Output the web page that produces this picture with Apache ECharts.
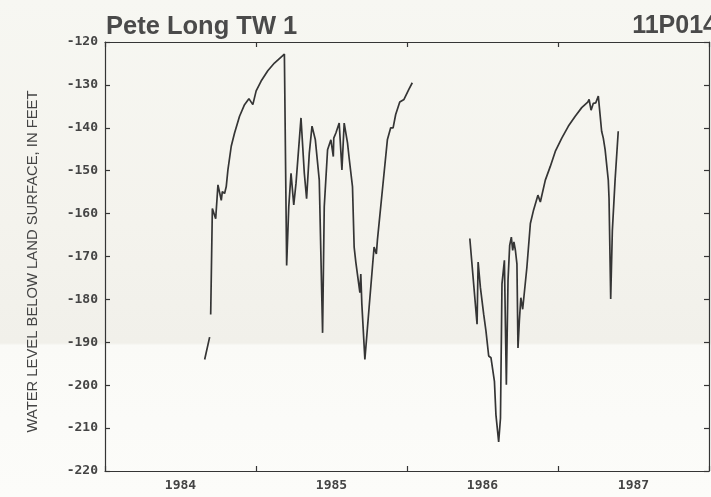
<!DOCTYPE html>
<html>
<head>
<meta charset="utf-8">
<script src="https://cdn.jsdelivr.net/npm/echarts@6/dist/echarts.min.js"></script>
<style>
  html, body { margin: 0; padding: 0; }
  #chart { width: 711px; height: 497px; }
</style>
</head>
<body>
<div id="chart"></div>
<script>
// decimal years, null level = break in the record
var years = [
  1984.660, 1984.693, 1984.696,
  1984.700, 1984.711, 1984.719, 1984.733, 1984.748, 1984.759, 1984.770, 1984.777, 1984.792, 1984.803,
  1984.814, 1984.836, 1984.858, 1984.891, 1984.924, 1984.953, 1984.979, 1985.001, 1985.034, 1985.078,
  1985.122, 1985.188, 1985.203, 1985.217, 1985.232, 1985.250, 1985.265, 1985.298, 1985.320, 1985.335,
  1985.353, 1985.371, 1985.393, 1985.419, 1985.441, 1985.452, 1985.474, 1985.496, 1985.512, 1985.515,
  1985.529, 1985.551, 1985.569, 1985.584, 1985.606, 1985.617, 1985.639, 1985.650, 1985.661, 1985.672,
  1985.688, 1985.694, 1985.701, 1985.721, 1985.749, 1985.771, 1985.782, 1985.797, 1985.804, 1985.837,
  1985.870, 1985.892, 1985.908, 1985.925, 1985.952, 1985.980, 1986.013, 1986.035, 1986.200,
  1986.416, 1986.464, 1986.471, 1986.486, 1986.508, 1986.523, 1986.541, 1986.556, 1986.579, 1986.589,
  1986.607, 1986.619, 1986.629, 1986.645, 1986.658, 1986.669, 1986.680, 1986.691, 1986.700, 1986.708,
  1986.718, 1986.728, 1986.735, 1986.744, 1986.754, 1986.766, 1986.779, 1986.794, 1986.817, 1986.838,
  1986.867, 1986.883, 1986.916, 1986.949, 1986.982, 1987.025, 1987.069, 1987.114, 1987.157, 1987.197,
  1987.206, 1987.219, 1987.234, 1987.250, 1987.267, 1987.279, 1987.289, 1987.300, 1987.312, 1987.322,
  1987.333, 1987.338, 1987.349, 1987.360, 1987.378, 1987.399
];
var levels = [
  -194.0, -188.8, null,
  -183.5, -158.8, -159.2, -161.2, -153.3, -153.7, -156.9, -154.9, -155.3, -153.7,
  -149.8, -144.3, -141.2, -137.3, -134.6, -133.2, -134.6, -131.4, -129.1, -126.7,
  -124.9, -122.8, -172.1, -158.4, -150.6, -158.0, -152.9, -137.7, -150.6, -156.5,
  -145.9, -139.6, -142.8, -152.2, -187.8, -158.4, -145.1, -142.8, -146.7, -142.4,
  -141.2, -138.9, -149.8, -138.9, -143.5, -147.1, -153.7, -167.8, -171.3, -171.7,
  -178.4, -174.1, -181.1, -194.0, -181.9, -172.5, -167.8, -169.4, -166.2, -154.5,
  -142.8, -140.0, -140.0, -136.9, -134.0, -133.4, -131.0, -129.5, null,
  -165.8, -185.8, -171.3, -177.2, -183.5, -187.4, -193.2, -193.6, -199.1, -206.9,
  -213.2, -207.7, -176.4, -170.9, -199.9, -175.6, -167.4, -165.5, -168.6, -166.6,
  -168.6, -171.7, -191.3, -185.0, -179.6, -182.3, -181.9, -172.5, -162.3, -159.2,
  -155.7, -157.3, -152.2, -149.0, -145.5, -142.4, -139.6, -137.3, -135.3, -134.0,
  -133.4, -135.9, -134.3, -134.2, -132.6, -133.0, -140.8, -142.4, -145.1, -145.1,
  -152.2, -156.5, -179.9, -163.9, -152.2, -140.8
];
var yearLabels = ['1984', '1985', '1986', '1987'];
var yearTicks = [1984, 1985, 1986, 1987, 1988];

var chart = echarts.init(document.getElementById('chart'));

var ink = '#353535';
var labelFont = { color: '#444', fontFamily: 'DejaVu Sans Mono', fontWeight: 'bold', fontSize: 13 };

var seriesData = [];
for (var i = 0; i < years.length; i++) {
  seriesData.push([years[i], levels[i] === null ? '-' : levels[i]]);
}
var labelValues = yearLabels.map(function (s, i) { return yearTicks[i] + 0.5; });

var xBase = {
  type: 'value',
  min: yearTicks[0],
  max: yearTicks[yearTicks.length - 1],
  interval: 1,
  splitLine: { show: false },
  axisLine: { lineStyle: { color: ink, width: 1.2 } },
  axisTick: { inside: true, length: 5, lineStyle: { color: ink, width: 1.2 } }
};
var yBase = {
  type: 'value',
  min: -220,
  max: -120,
  interval: 10,
  splitLine: { show: false },
  axisLine: { show: true, lineStyle: { color: ink, width: 1.2 } },
  axisTick: { show: true, inside: true, length: 5, lineStyle: { color: ink, width: 1.2 } }
};

var option = {
  animation: false,
  backgroundColor: new echarts.graphic.LinearGradient(0, 0, 0, 1, [
    { offset: 0, color: '#f7f7f2' },
    { offset: 0.45, color: '#f4f3ed' },
    { offset: 0.69, color: '#f1f0ea' },
    { offset: 0.695, color: '#fafaf7' },
    { offset: 1, color: '#fcfcf9' }
  ]),
  title: [
    {
      text: 'Pete Long TW 1',
      left: 106,
      top: 14,
      padding: 0,
      textStyle: { color: '#4a4a4a', fontFamily: 'Liberation Sans', fontWeight: 'bold', fontSize: 25.5 }
    },
    {
      text: '11P014',
      right: -6,
      top: 14,
      padding: 0,
      textStyle: { color: '#4a4a4a', fontFamily: 'Liberation Sans', fontWeight: 'bold', fontSize: 25 }
    }
  ],
  grid: { left: 105, right: 2, top: 42, bottom: 26, containLabel: false },
  xAxis: [
    Object.assign({}, xBase, {
      position: 'bottom',
      axisLabel: Object.assign({
        margin: 8,
        customValues: labelValues,
        formatter: function (v) { return yearLabels[Math.round(v - 0.5 - yearTicks[0])]; }
      }, labelFont)
    }),
    Object.assign({}, xBase, { position: 'top', axisLabel: { show: false } })
  ],
  yAxis: [
    Object.assign({}, yBase, {
      position: 'left',
      name: 'WATER LEVEL BELOW LAND SURFACE, IN FEET',
      nameLocation: 'middle',
      nameGap: 65,
      nameTextStyle: { color: '#444', fontFamily: 'Liberation Sans', fontSize: 14.8, padding: [0, 10, 0, 0] },
      axisLabel: Object.assign({ margin: 7 }, labelFont)
    }),
    Object.assign({}, yBase, { position: 'right', axisLabel: { show: false } })
  ],
  series: [
    {
      type: 'line',
      data: seriesData,
      showSymbol: false,
      connectNulls: false,
      lineStyle: { color: ink, width: 1.7 },
      itemStyle: { color: ink }
    }
  ]
};
chart.setOption(option);
</script>
</body>
</html>
